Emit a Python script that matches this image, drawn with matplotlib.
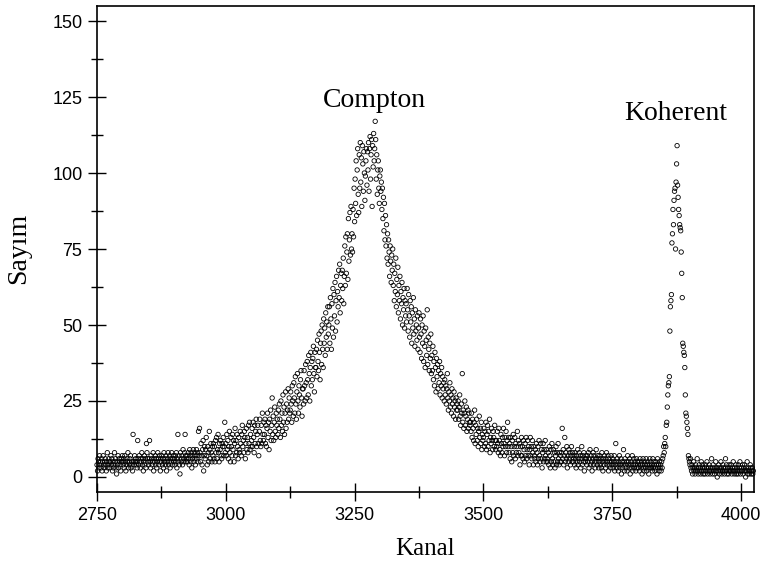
import numpy as np
import matplotlib.pyplot as plt
from matplotlib.ticker import MultipleLocator

# counts per channel (Compton region 2750-3848)
compton_start = 2750
compton_counts = [
    4, 2, 6, 5, 3, 7, 4, 5, 3, 6, 2, 5, 7, 4, 3, 5, 6, 4, 2, 5, 8, 3, 4, 6, 5,
    3, 5, 7, 4, 6, 2, 5, 3, 4, 8, 5, 6, 3, 1, 5, 4, 7, 3, 6, 5, 4, 2, 6, 5, 7,
    5, 4, 6, 3, 7, 5, 2, 4, 6, 5, 8, 3, 5, 4, 6, 7, 3, 5, 4, 2, 14, 5, 4, 7, 5,
    6, 4, 5, 3, 12, 6, 4, 7, 5, 3, 6, 5, 8, 4, 6, 2, 5, 7, 4, 6, 3, 11, 8, 6, 5,
    4, 6, 12, 5, 3, 7, 6, 4, 5, 8, 2, 6, 5, 7, 4, 6, 3, 5, 8, 6, 4, 7, 5, 2, 6,
    5, 7, 4, 6, 3, 8, 5, 6, 4, 7, 2, 5, 6, 8, 4, 5, 7, 3, 6, 5, 8, 4, 6, 7, 5,
    6, 4, 7, 5, 8, 3, 6, 14, 5, 7, 4, 1, 8, 6, 5, 7, 4, 9, 6, 5, 8, 14, 7, 5, 6,
    7, 5, 8, 6, 4, 9, 7, 5, 8, 3, 6, 7, 9, 5, 8, 6, 4, 7, 9, 6, 8, 5, 15, 7, 16,
    8, 5, 11, 7, 4, 9, 12, 2, 7, 10, 6, 9, 13, 7, 4, 10, 8, 5, 15, 9, 6, 11, 8, 5, 10,
    7, 11, 6, 10, 5, 12, 8, 13, 6, 9, 14, 8, 5, 11, 9, 12, 7, 6, 11, 10, 13, 7, 10, 18, 8,
    11, 7, 14, 9, 12, 6, 10, 15, 8, 5, 13, 10, 7, 14, 9, 12, 5, 11, 16, 7, 12, 8, 14, 10, 6,
    13, 9, 8, 15, 11, 7, 14, 17, 10, 12, 8, 15, 13, 6, 11, 16, 9, 13, 8, 17, 11, 18, 9, 14, 10,
    12, 16, 10, 18, 13, 8, 17, 11, 15, 19, 10, 14, 17, 11, 7, 15, 19, 12, 10, 17, 11, 21, 14, 12, 18,
    14, 19, 11, 17, 10, 16, 21, 13, 18, 9, 19, 15, 22, 12, 17, 26, 14, 20, 12, 18, 23, 15, 13, 21, 17,
    19, 14, 22, 16, 24, 19, 13, 25, 17, 21, 15, 27, 18, 23, 14, 21, 28, 16, 24, 18, 22, 29, 19, 26, 21,
    22, 28, 24, 18, 30, 25, 20, 31, 26, 21, 33, 24, 19, 28, 34, 25, 21, 30, 27, 23, 32, 35, 26, 20, 29,
    29, 24, 35, 30, 25, 37, 31, 26, 38, 32, 27, 40, 34, 25, 36, 41, 30, 38, 32, 39, 43, 34, 28, 41, 36,
    36, 42, 33, 45, 38, 35, 47, 41, 32, 44, 48, 37, 50, 42, 36, 52, 44, 49, 40, 54, 46, 51, 42, 56, 47,
    50, 56, 44, 59, 52, 42, 57, 49, 62, 46, 60, 53, 64, 48, 58, 66, 51, 61, 56, 68, 59, 70, 54, 63, 67,
    58, 68, 62, 72, 57, 66, 76, 63, 79, 67, 74, 80, 65, 85, 71, 78, 87, 73, 89, 75, 80, 74, 88, 79, 95,
    84, 98, 90, 104, 86, 101, 108, 93, 87, 106, 95, 110, 97, 105, 89, 109, 103, 94, 107, 100, 91, 99, 104, 108, 96,
    107, 101, 110, 94, 108, 112, 98, 106, 111, 89, 109, 102, 113, 104, 108, 117, 111, 98, 106, 93, 101, 104, 95, 90, 99,
    101, 94, 97, 88, 95, 85, 92, 81, 90, 78, 86, 76, 83, 72, 80, 70, 78, 74, 66, 76, 71, 64, 73, 68, 75,
    63, 70, 58, 67, 61, 72, 56, 65, 60, 69, 54, 63, 58, 66, 52, 61, 57, 64, 50, 59, 55, 62, 49, 58, 53,
    57, 51, 62, 55, 48, 60, 53, 46, 58, 51, 56, 44, 54, 49, 59, 47, 52, 43, 55, 48, 50, 45, 53, 42, 49,
    54, 46, 41, 52, 47, 39, 50, 44, 53, 38, 48, 43, 36, 49, 45, 40, 55, 37, 46, 42, 35, 44, 39, 47, 34,
    40, 35, 43, 32, 38, 30, 41, 36, 28, 39, 33, 37, 29, 35, 31, 38, 27, 34, 30, 36, 26, 33, 29, 31, 25,
    32, 27, 30, 24, 29, 34, 26, 22, 28, 25, 31, 23, 27, 21, 29, 24, 26, 20, 28, 23, 25, 19, 26, 22, 24,
    22, 25, 19, 23, 27, 20, 17, 24, 21, 34, 18, 22, 16, 21, 25, 17, 20, 23, 15, 19, 22, 16, 21, 18, 17,
    18, 15, 21, 13, 19, 16, 12, 18, 22, 11, 17, 14, 19, 12, 16, 10, 15, 20, 13, 16, 11, 18, 9, 14, 12,
    13, 16, 10, 15, 11, 18, 9, 14, 17, 10, 15, 12, 19, 8, 13, 11, 16, 12, 9, 15, 13, 10, 17, 12, 9,
    12, 10, 15, 11, 8, 16, 12, 9, 7, 14, 11, 8, 13, 10, 16, 11, 7, 13, 10, 15, 8, 12, 18, 10, 13,
    8, 11, 6, 13, 10, 5, 12, 8, 14, 7, 10, 13, 6, 11, 8, 10, 15, 7, 12, 8, 11, 4, 10, 7, 13,
    7, 10, 6, 12, 9, 5, 11, 7, 13, 6, 9, 12, 7, 10, 4, 9, 13, 7, 10, 6, 12, 8, 4, 10, 7,
    6, 9, 5, 11, 8, 4, 10, 6, 12, 7, 5, 11, 6, 9, 3, 8, 11, 5, 9, 6, 12, 7, 5, 9, 6,
    5, 8, 4, 10, 7, 3, 9, 5, 11, 6, 4, 9, 5, 8, 3, 7, 10, 4, 8, 5, 11, 6, 4, 8, 5,
    7, 5, 8, 16, 6, 9, 4, 7, 13, 5, 8, 6, 10, 3, 7, 5, 9, 6, 8, 4, 7, 10, 5, 8, 6,
    5, 7, 4, 8, 6, 3, 7, 5, 9, 4, 6, 8, 5, 7, 3, 6, 10, 4, 7, 5, 8, 2, 6, 5, 7,
    6, 4, 7, 5, 8, 3, 6, 9, 4, 7, 5, 2, 6, 8, 4, 7, 5, 3, 6, 9, 5, 4, 7, 6, 3,
    5, 7, 4, 6, 3, 8, 5, 2, 6, 4, 7, 5, 3, 6, 8, 4, 5, 7, 2, 6, 4, 5, 3, 7, 5,
    4, 6, 3, 5, 7, 2, 4, 11, 5, 3, 6, 4, 2, 5, 7, 3, 4, 6, 1, 5, 3, 4, 9, 5, 2,
    6, 4, 3, 5, 2, 7, 4, 5, 3, 6, 1, 4, 5, 3, 7, 2, 4, 6, 3, 5, 4, 2, 6, 3, 5,
    4, 3, 5, 2, 6, 4, 3, 5, 1, 4, 6, 3, 2, 5, 4, 3, 6, 2, 4, 5, 3, 1, 4, 6, 3,
    5, 3, 4, 2, 6, 3, 5, 4, 2, 3, 5, 4, 1, 6, 3, 4, 2, 5, 3, 4, 2, 5, 3, 6,
]

# coherent peak 3849-3903
koherent_start = 3849
koherent_counts = [
    7, 10, 8, 11, 13, 10, 17, 18, 23, 27, 30, 31, 33, 48, 56, 58, 60, 77, 80, 88,
    83, 91, 94, 95, 75, 97, 103, 109, 96, 92, 88, 86, 83, 82, 81, 74, 67, 59, 44, 43,
    41, 40, 36, 27, 21, 20, 18, 16, 14, 7, 6, 5, 4, 6, 3,
]

# tail 3904-4024
tail_start = 3904
tail_counts = [
    2, 4, 1, 3, 5, 2, 3, 1, 4, 2, 3, 6, 2, 1, 3, 4, 2, 3, 1, 5, 2, 4, 3, 1, 2,
    3, 1, 4, 2, 3, 5, 1, 2, 3, 4, 2, 1, 3, 2, 6, 3, 1, 4, 2, 3, 1, 2, 5, 3, 2,
    0, 3, 2, 4, 1, 3, 2, 5, 3, 1, 2, 4, 3, 2, 1, 3, 6, 2, 4, 1, 3, 2, 1, 4, 2,
    3, 2, 4, 1, 2, 3, 5, 2, 1, 3, 2, 4, 1, 3, 2, 1, 4, 2, 3, 5, 1, 2, 3, 2, 4,
    1, 3, 2, 4, 2, 0, 3, 2, 5, 1, 2, 3, 1, 2, 4, 3, 1, 2, 3, 1, 2,
]

x_ticks = [2750, 3000, 3250, 3500, 3750, 4000]
y_ticks = [0, 25, 50, 75, 100, 125, 150]

assert len(compton_counts) == koherent_start - compton_start
assert len(koherent_counts) == tail_start - koherent_start

segments = [(compton_start, compton_counts), (koherent_start, koherent_counts), (tail_start, tail_counts)]
channels = np.concatenate([np.arange(s, s + len(c)) for s, c in segments])
counts = np.concatenate([np.asarray(c) for _, c in segments])

SANS = "Liberation Sans"
SERIF = "Liberation Serif"

fig = plt.figure(figsize=(7.62, 5.76), dpi=100)
ax = fig.add_axes([0.1273, 0.1455, 0.862, 0.8444])

ax.scatter(channels, counts, s=10, facecolors="none", edgecolors="black",
           linewidths=0.6, clip_on=False, zorder=3)

ax.set_xlim(2750, 4025)
ax.set_ylim(-5, 155)
ax.set_xticks(x_ticks)
ax.set_yticks(y_ticks)
ax.xaxis.set_minor_locator(MultipleLocator(125))
ax.yaxis.set_minor_locator(MultipleLocator(12.5))
ax.tick_params(which="major", direction="inout", length=13, width=1.0,
               labelsize=13, pad=4, top=False, right=False)
ax.tick_params(which="minor", direction="inout", length=8, width=1.0,
               top=False, right=False)
for lab in ax.get_xticklabels() + ax.get_yticklabels():
    lab.set_fontfamily(SANS)
for sp in ax.spines.values():
    sp.set_linewidth(1.2)

ax.set_xlabel("Kanal", fontfamily=SERIF, fontsize=18)
ax.set_ylabel("Sayım", fontfamily=SERIF, fontsize=20)
ax.xaxis.set_label_coords(0.5, -0.094)
ax.yaxis.set_label_coords(-0.100, 0.502)

ax.text(3288, 121.7, "Compton", ha="center", va="baseline", fontfamily=SERIF, fontsize=20)
ax.text(3874, 117.4, "Koherent", ha="center", va="baseline", fontfamily=SERIF, fontsize=20)

fig.savefig("out.png", dpi=100)
plt.close(fig)
